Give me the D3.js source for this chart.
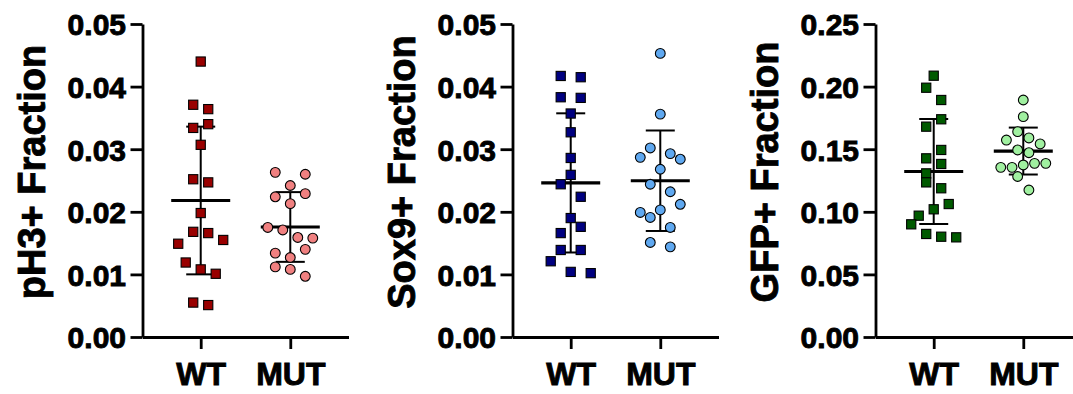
<!DOCTYPE html>
<html>
<head>
<meta charset="utf-8">
<script src="https://cdn.jsdelivr.net/npm/d3@7"></script>
<style>
  html, body { margin: 0; padding: 0; background: #fff; }
  svg { display: block; }
</style>
</head>
<body>
<div id="chart"></div>
<script>
// ---------------- data ----------------
const categories = ["WT", "MUT"];
const yTitles = ["pH3+ Fraction", "Sox9+ Fraction", "GFP+ Fraction"];

const pH3WT  = [0.0440, 0.0371, 0.0364, 0.0334, 0.0340, 0.0307, 0.0252, 0.0247, 0.0198,
                0.0149, 0.0168, 0.0166, 0.0155, 0.0119, 0.0108, 0.0101, 0.0055, 0.0051];
const pH3MUT = [0.0263, 0.0242, 0.0260, 0.0224, 0.0213, 0.0229, 0.0175, 0.0171,
                0.0159, 0.0158, 0.0134, 0.0127, 0.0140, 0.0112, 0.0108, 0.0097];

const sox9WT  = [0.0417, 0.0415, 0.0383, 0.0382, 0.0357, 0.0327, 0.0286, 0.0259, 0.0244,
                 0.0224, 0.0190, 0.0166, 0.0176, 0.0139, 0.0139, 0.0121, 0.0104, 0.0102];
const sox9MUT = [0.0453, 0.0356, 0.0302, 0.0293, 0.0287, 0.0268, 0.0284, 0.0244,
                 0.0232, 0.0199, 0.0203, 0.0212, 0.0191, 0.0175, 0.0151, 0.0144];

const gfpWT  = [0.2087, 0.1991, 0.1893, 0.1680, 0.1739, 0.1427, 0.1494, 0.1307, 0.1382,
                0.1235, 0.1188, 0.0969, 0.1020, 0.1062, 0.0900, 0.0823, 0.0801, 0.0796];
const gfpMUT = [0.1893, 0.1760, 0.1640, 0.1590, 0.1573, 0.1494, 0.1472, 0.1542,
                0.1355, 0.1355, 0.1374, 0.1387, 0.1387, 0.1282, 0.1174];

const ticksSmall = [0, 0.01, 0.02, 0.03, 0.04, 0.05];
const ticksGFP   = [0, 0.05, 0.10, 0.15, 0.20, 0.25];

// ---------------- layout / style ----------------
const W = 1073, H = 394;
const FONT = "'Liberation Sans', Arial, Helvetica, sans-serif";
const yTop = 24, yBottom = 337, xLen = 206;
const TEXT_STROKE = 0.9;

const panels = [
  { title: yTitles[0], series: [pH3WT, pH3MUT],   ticks: ticksSmall, colors: ["#990000", "#F08080"], x0: 142.5 },
  { title: yTitles[1], series: [sox9WT, sox9MUT], ticks: ticksSmall, colors: ["#000080", "#5FA8F0"], x0: 512.5 },
  { title: yTitles[2], series: [gfpWT, gfpMUT],   ticks: ticksGFP,   colors: ["#005A00", "#A0F0A0"], x0: 875.5 }
];

const svg = d3.select("#chart").append("svg")
  .attr("width", W).attr("height", H)
  .style("background", "#fff");

// Prism-like scatter layout: group points into rows (from the bottom up),
// spread each row symmetrically around the category centre.
function swarm(values, y) {
  const items = values.map((v, i) => ({ v, i, py: y(v) }));
  const sorted = items.slice().sort((a, b) => b.py - a.py);
  const rows = [];
  let cur = null;
  sorted.forEach(it => {
    if (cur && (cur[0].py - it.py) <= 14.2) cur.push(it);
    else { cur = [it]; rows.push(cur); }
  });
  const maxRow = d3.max(rows, r => r.length);
  const step = maxRow > 1 ? Math.min(20, 45 / (maxRow - 1)) : 0;
  rows.forEach(r => {
    r.sort((a, b) => a.i - b.i);
    const n = r.length;
    r.forEach((it, k) => { it.dx = (k - (n - 1) / 2) * step; });
  });
  return items;
}

panels.forEach(p => {
  const g = svg.append("g").attr("transform", `translate(${p.x0},0)`);
  const y = d3.scaleLinear().domain([0, d3.max(p.ticks)]).range([yBottom, yTop]);
  const x = d3.scalePoint().domain(categories).range([0, xLen]).padding(0.65);

  // y axis
  const ya = g.append("g")
    .call(d3.axisLeft(y).tickValues(p.ticks).tickFormat(d3.format(".2f"))
      .tickSize(12).tickSizeOuter(0).tickPadding(4.5));
  ya.attr("font-size", 30).attr("font-family", FONT).attr("font-weight", "bold");
  ya.selectAll("path, line").attr("stroke", "#000").attr("stroke-width", 2.8);
  ya.selectAll("text").attr("fill", "#000").attr("dy", "0.36em")
    .attr("stroke", "#000").attr("stroke-width", TEXT_STROKE);

  // x axis
  const xa = g.append("g").attr("transform", `translate(0,${yBottom})`)
    .call(d3.axisBottom(x).tickSize(12).tickSizeOuter(0).tickPadding(13));
  xa.attr("font-size", 32).attr("font-family", FONT).attr("font-weight", "bold");
  xa.selectAll("path, line").attr("stroke", "#000").attr("stroke-width", 2.8);
  xa.selectAll("text").attr("fill", "#000")
    .attr("stroke", "#000").attr("stroke-width", TEXT_STROKE);

  // y title
  g.append("text")
    .attr("transform", `translate(-98,172) rotate(-90)`)
    .attr("text-anchor", "middle")
    .attr("font-family", FONT).attr("font-weight", "bold").attr("font-size", 38)
    .attr("fill", "#000").attr("stroke", "#000").attr("stroke-width", TEXT_STROKE)
    .text(p.title);

  p.series.forEach((vals, si) => {
    const cx = x(categories[si]);
    const m = d3.mean(vals), sd = d3.deviation(vals);

    // error bars (mean ± SD)
    const eb = g.append("g").attr("stroke", "#000").attr("fill", "none");
    eb.append("line").attr("x1", cx).attr("x2", cx)
      .attr("y1", y(m - sd)).attr("y2", y(m + sd)).attr("stroke-width", 2);
    [m - sd, m + sd].forEach(v => {
      eb.append("line").attr("x1", cx - 14.5).attr("x2", cx + 14.5)
        .attr("y1", y(v)).attr("y2", y(v)).attr("stroke-width", 2);
    });
    eb.append("line").attr("x1", cx - 29.5).attr("x2", cx + 29.5)
      .attr("y1", y(m)).attr("y2", y(m)).attr("stroke-width", 3.2);

    // points
    const pts = swarm(vals, y);
    const pg = g.append("g").attr("fill", p.colors[si]).attr("stroke", "#000").attr("stroke-width", 1.1);
    if (si === 0) {
      pg.selectAll("rect").data(pts).join("rect")
        .attr("x", d => cx + d.dx - 4.6).attr("y", d => d.py - 4.6)
        .attr("width", 9.2).attr("height", 9.2);
    } else {
      pg.selectAll("circle").data(pts).join("circle")
        .attr("cx", d => cx + d.dx).attr("cy", d => d.py).attr("r", 4.9);
    }
  });
});
</script>
</body>
</html>
